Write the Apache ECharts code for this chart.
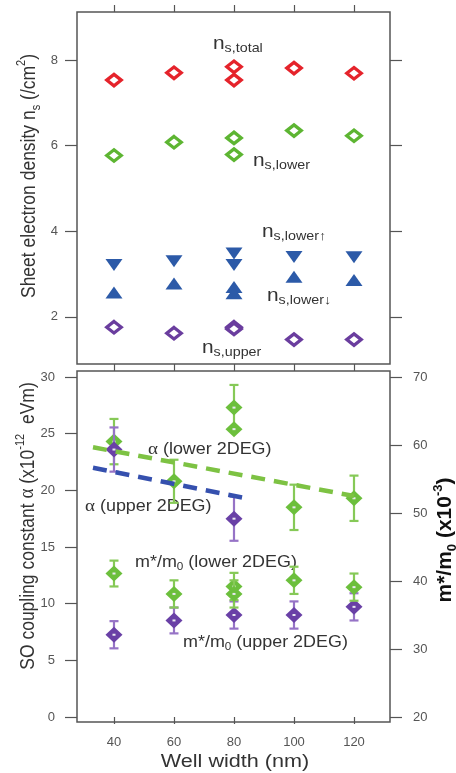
<!DOCTYPE html>
<html lang="en">
<head>
<meta charset="UTF-8">
<title>Well width dependence</title>
<style>html,body{margin:0;padding:0;background:#fff;}</style>
</head>
<body>
<div id="main" style="width:456px;height:773px;"></div>
<script src="https://cdn.jsdelivr.net/npm/echarts@6/dist/echarts.min.js"></script>
<script>
// top panel: sheet electron density vs well width
var nsX = [40, 60, 80, 80, 100, 120];
var nsTotal = [7.53, 7.70, 7.84, 7.53, 7.81, 7.69];
var nsLower = [5.77, 6.08, 6.18, 5.79, 6.35, 6.23];
var nsLowerUp = [3.21, 3.30, 3.48, 3.21, 3.40, 3.39];     // down triangles
var nsLowerDown = [2.57, 2.78, 2.70, 2.55, 2.94, 2.86];   // up triangles
var nsUpper = [1.76, 1.62, 1.76, 1.72, 1.47, 1.47];

// bottom panel: SO coupling (left axis) and m*/m0 (right axis)
var alphaLowX = [40, 60, 80, 80, 100, 120];
var alphaLow = [24.3, 20.8, 27.3, 25.4, 18.5, 19.3];
var alphaLowErr = [2.0, 1.9, 2.0, 0, 2.0, 2.0];
var alphaUpX = [40, 80];
var alphaUp = [23.6, 17.5];
var alphaUpErr = [1.95, 1.95];
var massLowX = [40, 60, 80, 80, 100, 120];
var massLow = [41.1, 38.1, 39.2, 38.1, 40.1, 39.1];
var massLowErr = [1.9, 2.0, 2.0, 2.0, 2.0, 2.0];
var massUpX = [40, 60, 80, 100, 120];
var massUp = [32.1, 34.2, 35.0, 35.0, 36.2];
var massUpErr = [2.0, 1.9, 2.0, 2.0, 2.0];
var fitLowX = [33, 120];
var fitLow = [23.8, 19.5];
var fitUpX = [33, 84];
var fitUp = [22.0, 19.3];

var xTicks = [40, 60, 80, 100, 120];
var nsTicks = [2, 4, 6, 8];
var alphaTicks = [0, 5, 10, 15, 20, 25, 30];
var massTicks = [20, 30, 40, 50, 60, 70];

var FONT = '"Liberation Sans", Arial, sans-serif';
var red = '#e5232b', green = '#5db532', blue = '#2c5aa8', purple = '#6a3d9e';
var gDia = '#6cbf3c', gBar = '#86c957', pDia = '#6940a6', pBar = '#9673c6';

function zip(xs, ys) {
    return xs.map(function (x, i) { return [x, ys[i]]; });
}
function withErr(xs, ys, es) {
    return xs.map(function (x, i) { return [x, ys[i] - es[i], ys[i] + es[i], ys[i]]; });
}

// error bar + filled diamond with small white centre
function errDiamond(barColor, diaColor) {
    return function (params, api) {
        var x = api.value(0), lo = api.value(1), hi = api.value(2), v = api.value(3);
        var c = api.coord([x, v]);
        var kids = [];
        if (hi > lo) {
            var pt = api.coord([x, hi]), pb = api.coord([x, lo]);
            var st = { stroke: barColor, lineWidth: 2.2 };
            kids.push({ type: 'line', shape: { x1: pt[0], y1: pt[1], x2: pb[0], y2: pb[1] }, style: st });
            kids.push({ type: 'line', shape: { x1: pt[0] - 4.5, y1: pt[1], x2: pt[0] + 4.5, y2: pt[1] }, style: st });
            kids.push({ type: 'line', shape: { x1: pb[0] - 4.5, y1: pb[1], x2: pb[0] + 4.5, y2: pb[1] }, style: st });
        }
        kids.push({ type: 'polygon', shape: { points: [[c[0], c[1] - 8], [c[0] + 8.5, c[1]], [c[0], c[1] + 8], [c[0] - 8.5, c[1]]] },
            style: { fill: diaColor } });
        kids.push({ type: 'rect', shape: { x: c[0] - 1.5, y: c[1] - 1, width: 3, height: 2 }, style: { fill: '#e8e8f0' } });
        return { type: 'group', children: kids };
    };
}

// text with sub/superscripts, laid out on a baseline
var meas = document.createElement('canvas').getContext('2d');
function runText(parts, x, y, opt) {
    opt = opt || {};
    var kids = [], cx = 0;
    parts.forEach(function (p) {
        var font = (p.w || 'normal') + ' ' + p.s + 'px ' + (p.f || FONT);
        meas.font = font;
        kids.push({
            type: 'text', x: cx, y: (p.dy || 0) - 0.35 * p.s,
            style: { text: p.t, font: font, fill: opt.color || '#333',
                textAlign: 'left', align: 'left', textVerticalAlign: 'middle', verticalAlign: 'middle' }
        });
        cx += meas.measureText(p.t).width;
    });
    if (opt.center) kids.forEach(function (k) { k.x -= cx / 2; });
    return { type: 'group', x: x, y: y, rotation: opt.rot || 0,
        scaleX: opt.sx || 1, scaleY: opt.sy || 1, children: kids };
}
function nsLabel(sub, x, y) {
    return runText([{ t: 'n', s: 19 }, { t: sub, s: 13, dy: 3 }], x, y, { sx: 1.1 });
}

var myChart = echarts.init(document.getElementById('main'));

var tickLine = { color: '#555', width: 1.2 };

function xAx(grid, pos, labels) {
    return {
        type: 'value', gridIndex: grid, position: pos, min: 27.67, max: 132,
        axisLine: { show: false }, splitLine: { show: false },
        axisTick: { show: true, inside: false, length: 7, customValues: xTicks, lineStyle: tickLine },
        axisLabel: { show: labels, margin: 14, customValues: xTicks, color: '#555', fontSize: 13, fontFamily: FONT }
    };
}
function yAx(grid, pos, min, max, ticks, labels, margin) {
    return {
        type: 'value', gridIndex: grid, position: pos, min: min, max: max,
        axisLine: { show: false }, splitLine: { show: false },
        axisTick: { show: true, inside: false, length: 12, customValues: ticks, lineStyle: tickLine },
        axisLabel: { show: labels, margin: margin, customValues: ticks, color: '#555', fontSize: 13, fontFamily: FONT }
    };
}

myChart.setOption({
    animation: false,
    backgroundColor: '#fff',
    grid: [
        { left: 77, right: 66, top: 12, height: 352, show: true, borderColor: '#555', borderWidth: 1.5, backgroundColor: 'transparent' },
        { left: 77, right: 66, top: 371, height: 351, show: true, borderColor: '#555', borderWidth: 1.5, backgroundColor: 'transparent' }
    ],
    xAxis: [
        xAx(0, 'bottom', false),
        xAx(0, 'top', false),
        xAx(1, 'bottom', true)
    ],
    yAxis: [
        yAx(0, 'left', 0.9, 9.12, nsTicks, true, 19),
        yAx(0, 'right', 0.9, 9.12, nsTicks, false, 20),
        yAx(1, 'left', -0.44, 30.53, alphaTicks, true, 22),
        yAx(1, 'right', 19.27, 70.88, massTicks, true, 23)
    ],
    series: [
        { name: 'ns,total', type: 'scatter', xAxisIndex: 0, yAxisIndex: 0, data: zip(nsX, nsTotal),
          symbol: 'diamond', symbolSize: [14.5, 11.5], itemStyle: { color: '#fff', borderColor: red, borderWidth: 3.3, opacity: 1 } },
        { name: 'ns,lower', type: 'scatter', xAxisIndex: 0, yAxisIndex: 0, data: zip(nsX, nsLower),
          symbol: 'diamond', symbolSize: [14.5, 11.5], itemStyle: { color: '#fff', borderColor: green, borderWidth: 3.3, opacity: 1 } },
        { name: 'ns,lower up', type: 'scatter', xAxisIndex: 0, yAxisIndex: 0, data: zip(nsX, nsLowerUp),
          symbol: 'triangle', symbolRotate: 180, symbolSize: [17, 12], itemStyle: { color: blue, opacity: 1 } },
        { name: 'ns,lower down', type: 'scatter', xAxisIndex: 0, yAxisIndex: 0, data: zip(nsX, nsLowerDown),
          symbol: 'triangle', symbolSize: [17, 12], itemStyle: { color: blue, opacity: 1 } },
        { name: 'ns,upper', type: 'scatter', xAxisIndex: 0, yAxisIndex: 0, data: zip(nsX, nsUpper),
          symbol: 'diamond', symbolSize: [14.5, 11.5], itemStyle: { color: '#fff', borderColor: purple, borderWidth: 3.3, opacity: 1 } },

        { name: 'fit lower', type: 'line', xAxisIndex: 2, yAxisIndex: 2, data: zip(fitLowX, fitLow), showSymbol: false,
          lineStyle: { color: '#7dc243', width: 4.5, type: [14, 9] } },
        { name: 'fit upper', type: 'line', xAxisIndex: 2, yAxisIndex: 2, data: zip(fitUpX, fitUp), showSymbol: false,
          lineStyle: { color: '#3550ae', width: 4.5, type: [14, 9] } },

        { name: 'm upper', type: 'custom', xAxisIndex: 2, yAxisIndex: 3, data: withErr(massUpX, massUp, massUpErr),
          renderItem: errDiamond(pBar, pDia), encode: { x: 0, y: [1, 2, 3] } },
        { name: 'm lower', type: 'custom', xAxisIndex: 2, yAxisIndex: 3, data: withErr(massLowX, massLow, massLowErr),
          renderItem: errDiamond(gBar, gDia), encode: { x: 0, y: [1, 2, 3] } },
        { name: 'alpha lower', type: 'custom', xAxisIndex: 2, yAxisIndex: 2, data: withErr(alphaLowX, alphaLow, alphaLowErr),
          renderItem: errDiamond(gBar, gDia), encode: { x: 0, y: [1, 2, 3] } },
        { name: 'alpha upper', type: 'custom', xAxisIndex: 2, yAxisIndex: 2, data: withErr(alphaUpX, alphaUp, alphaUpErr),
          renderItem: errDiamond(pBar, pDia), encode: { x: 0, y: [1, 2, 3] } }
    ],
    graphic: [
        // axis titles
        runText([{ t: 'Sheet electron density n', s: 17.5 }, { t: 's', s: 11, dy: 4 }, { t: ' (/cm', s: 17.5 },
                 { t: '2', s: 11, dy: -9 }, { t: ')', s: 17.5 }], 36, 176, { rot: Math.PI / 2, center: true, sy: 1.15 }),
        runText([{ t: 'SO coupling constant ', s: 17.5 }, { t: 'α', s: 19, f: '"Liberation Serif", serif' },
                 { t: ' (x10', s: 17.5 }, { t: '-12', s: 11, dy: -9 }, { t: '  eVm)', s: 17.5 }],
                 35, 526, { rot: Math.PI / 2, center: true, sy: 1.15 }),
        runText([{ t: 'm*/m', s: 21, w: 'bold' }, { t: '0', s: 13, w: 'bold', dy: 4 }, { t: ' (x10', s: 21, w: 'bold' },
                 { t: '-3', s: 13, w: 'bold', dy: -10 }, { t: ')', s: 21, w: 'bold' }],
                 453, 540, { rot: Math.PI / 2, center: true, color: '#111' }),
        runText([{ t: 'Well width (nm)', s: 18 }], 235, 768, { center: true, sx: 1.2 }),

        // series annotations
        nsLabel('s,total', 213, 50),
        nsLabel('s,lower', 253, 167),
        nsLabel('s,lower\u2191', 262, 238),
        nsLabel('s,lower\u2193', 267, 302),
        nsLabel('s,upper', 202, 354),
        runText([{ t: 'α', s: 17, f: '"Liberation Serif", serif' }, { t: ' (lower 2DEG)', s: 16 }], 148, 455, { sx: 1.12 }),
        runText([{ t: 'α', s: 17, f: '"Liberation Serif", serif' }, { t: ' (upper 2DEG)', s: 16 }], 85, 512, { sx: 1.12 }),
        runText([{ t: 'm*/m', s: 16 }, { t: '0', s: 10.5, dy: 3 }, { t: ' (lower 2DEG)', s: 16 }], 135, 568, { sx: 1.12 }),
        runText([{ t: 'm*/m', s: 16 }, { t: '0', s: 10.5, dy: 3 }, { t: ' (upper 2DEG)', s: 16 }], 183, 648, { sx: 1.12 })
    ]
});
</script>
</body>
</html>
